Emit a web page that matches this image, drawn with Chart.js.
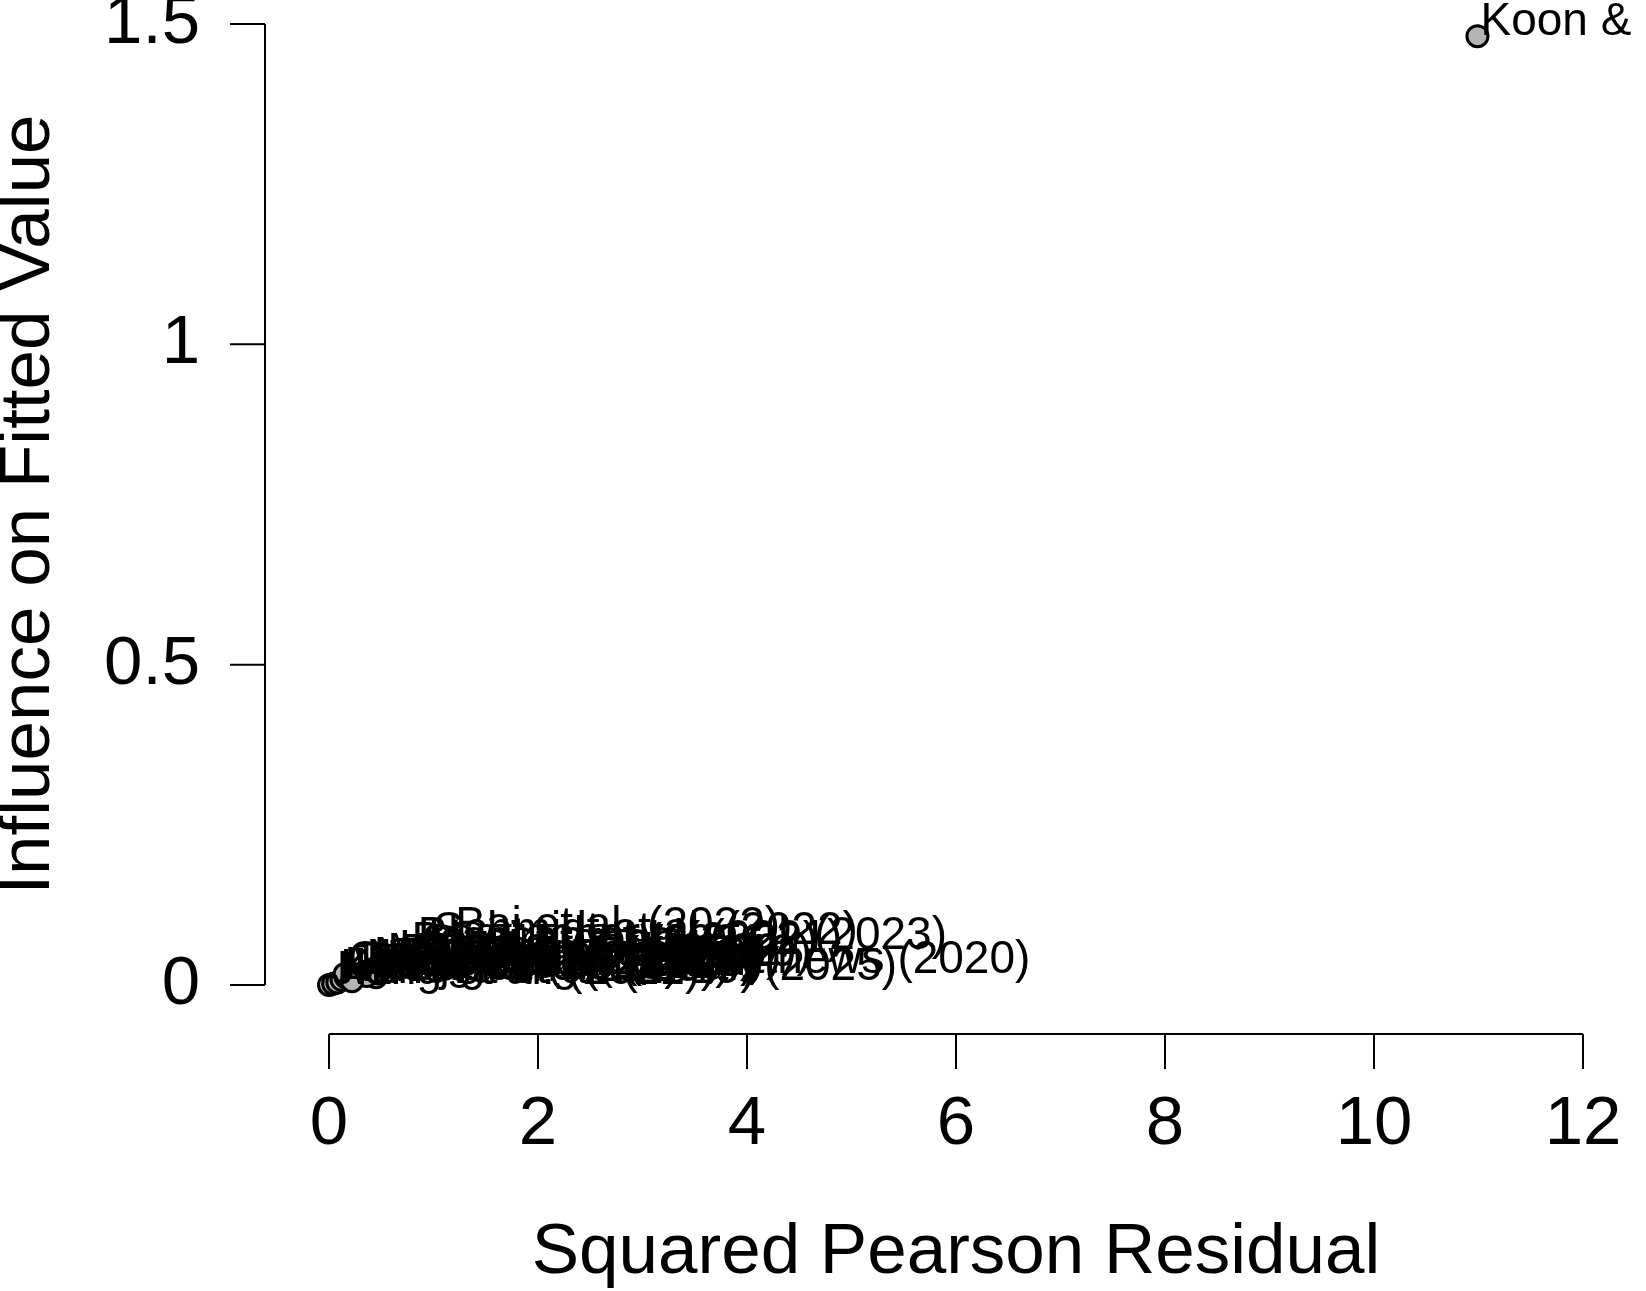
<!DOCTYPE html>
<html>
<head>
<meta charset="utf-8">
<title>Influence vs Squared Pearson Residual</title>
<script src="https://cdn.jsdelivr.net/npm/chart.js@4.4.1/dist/chart.umd.min.js"></script>
<style>
    html, body { margin: 0; padding: 0; background: #ffffff; }
    canvas { display: block; }
</style>
</head>
<body>
<canvas id="influenceChart" width="1646" height="1291"></canvas>
<script>
// Study labels and their values
const studyLabels = [
    'Jiang et al. (2021)', 'Ivanova et al. (2019)', 'Kim & Park (2020)', 'Lee et al. (2023)',
    'Jensen et al. (2018)', 'Wang et al. (2021)', 'Jones et al. (2023)', 'Zhou et al. (2022)',
    'Novak et al. (2019)', 'Yilmaz et al. (2024)', 'Müller et al. (2021)',
    'Christodoulou & Matthews (2020)', 'Vieira et al. (2023)', 'Martins et al. (2022)',
    'Zhang et al. (2020)', 'Liu et al. (2024)', 'Tanaka et al. (2019)', 'Pereira et al. (2022)',
    'Hadjigeorgiou et al. (2025)', 'Silva et al. (2021)', 'Hassan et al. (2021)',
    'Schmidt et al. (2022)', 'Bhattacharya et al. (2023)', 'Bai et al. (2022)', 'Koon & Lim (2021)'
];
const squaredResidual = [
    0.00, 0.04, 0.08, 0.12, 0.16, 0.21, 0.45, 0.26, 0.33, 0.36, 0.40,
    0.15, 0.48, 0.53, 0.58, 0.64, 0.70, 0.76, 0.22, 0.86, 0.92,
    0.97, 0.82, 1.18, 10.99
];
const influence = [
    0.000, 0.002, 0.004, 0.008, 0.012, 0.010, 0.012, 0.016, 0.020, 0.014, 0.024,
    0.017, 0.018, 0.030, 0.022, 0.034, 0.028, 0.047, 0.006, 0.044, 0.050,
    0.062, 0.055, 0.070, 1.481
];
const xTicks = [0, 2, 4, 6, 8, 10, 12];
const yTicks = [0, 0.5, 1, 1.5];
const yTickLabels = ['0', '0.5', '1', '1.5'];

const FONT = '"Liberation Sans", Arial, Helvetica, sans-serif';

document.addEventListener('DOMContentLoaded', function() {
    initializeInfluenceChart();
});

// Base-R style axes drawn detached from the plotting region
const detachedAxes = {
    id: 'detachedAxes',
    afterDraw(chart) {
        const ctx = chart.ctx;
        const xs = chart.scales.x;
        const ys = chart.scales.y;
        const yAxisX = 265;
        const xAxisY = 1034;
        const tick = 35;

        ctx.save();
        ctx.strokeStyle = '#000000';
        ctx.fillStyle = '#000000';
        ctx.lineWidth = 2;

        // y axis
        ctx.beginPath();
        ctx.moveTo(yAxisX, ys.getPixelForValue(yTicks[0]));
        ctx.lineTo(yAxisX, ys.getPixelForValue(yTicks[yTicks.length - 1]));
        yTicks.forEach(v => {
            const py = ys.getPixelForValue(v);
            ctx.moveTo(yAxisX, py);
            ctx.lineTo(yAxisX - tick, py);
        });
        ctx.stroke();

        ctx.font = `69px ${FONT}`;
        ctx.textAlign = 'right';
        ctx.textBaseline = 'middle';
        yTicks.forEach((v, i) => {
            ctx.fillText(yTickLabels[i], 200, ys.getPixelForValue(v));
        });

        // x axis
        ctx.beginPath();
        ctx.moveTo(xs.getPixelForValue(xTicks[0]), xAxisY);
        ctx.lineTo(xs.getPixelForValue(xTicks[xTicks.length - 1]), xAxisY);
        xTicks.forEach(v => {
            const px = xs.getPixelForValue(v);
            ctx.moveTo(px, xAxisY);
            ctx.lineTo(px, xAxisY + tick);
        });
        ctx.stroke();

        ctx.textAlign = 'center';
        xTicks.forEach(v => {
            ctx.fillText(String(v), xs.getPixelForValue(v), 1125);
        });

        // axis titles
        ctx.font = `71px ${FONT}`;
        const area = chart.chartArea;
        ctx.fillText('Squared Pearson Residual', (area.left + area.right) / 2, 1253);
        ctx.translate(29, (area.top + area.bottom) / 2);
        ctx.rotate(-Math.PI / 2);
        ctx.fillText('Influence on Fitted Value', 0, 0);
        ctx.restore();
    }
};

// Study names written next to each point, on top of the markers
const pointLabels = {
    id: 'pointLabels',
    afterDatasetsDraw(chart) {
        const ctx = chart.ctx;
        const meta = chart.getDatasetMeta(0);
        ctx.save();
        ctx.fillStyle = '#000000';
        ctx.font = `46px ${FONT}`;
        ctx.textAlign = 'left';
        ctx.textBaseline = 'alphabetic';
        meta.data.forEach((pt, i) => {
            ctx.fillText(studyLabels[i], pt.x + 3, pt.y - 1);
        });
        ctx.restore();
    }
};

// Initialize influence scatter chart
function initializeInfluenceChart() {
    const ctx = document.getElementById('influenceChart');
    if (!ctx) return;

    new Chart(ctx, {
        type: 'scatter',
        data: {
            datasets: [{
                data: squaredResidual.map((x, i) => ({ x: x, y: influence[i] })),
                pointRadius: 10.5,
                pointHoverRadius: 10.5,
                pointBackgroundColor: '#b4b4b4',
                pointBorderColor: '#000000',
                pointBorderWidth: 3,
                clip: false
            }]
        },
        options: {
            responsive: false,
            devicePixelRatio: 1,
            animation: false,
            events: [],
            layout: {
                padding: { left: 329, right: 63, top: 24, bottom: 306 }
            },
            plugins: {
                legend: { display: false },
                tooltip: { enabled: false }
            },
            scales: {
                x: { type: 'linear', min: 0, max: 12, display: false },
                y: { type: 'linear', min: 0, max: 1.5, display: false }
            }
        },
        plugins: [detachedAxes, pointLabels]
    });
}
</script>
</body>
</html>
